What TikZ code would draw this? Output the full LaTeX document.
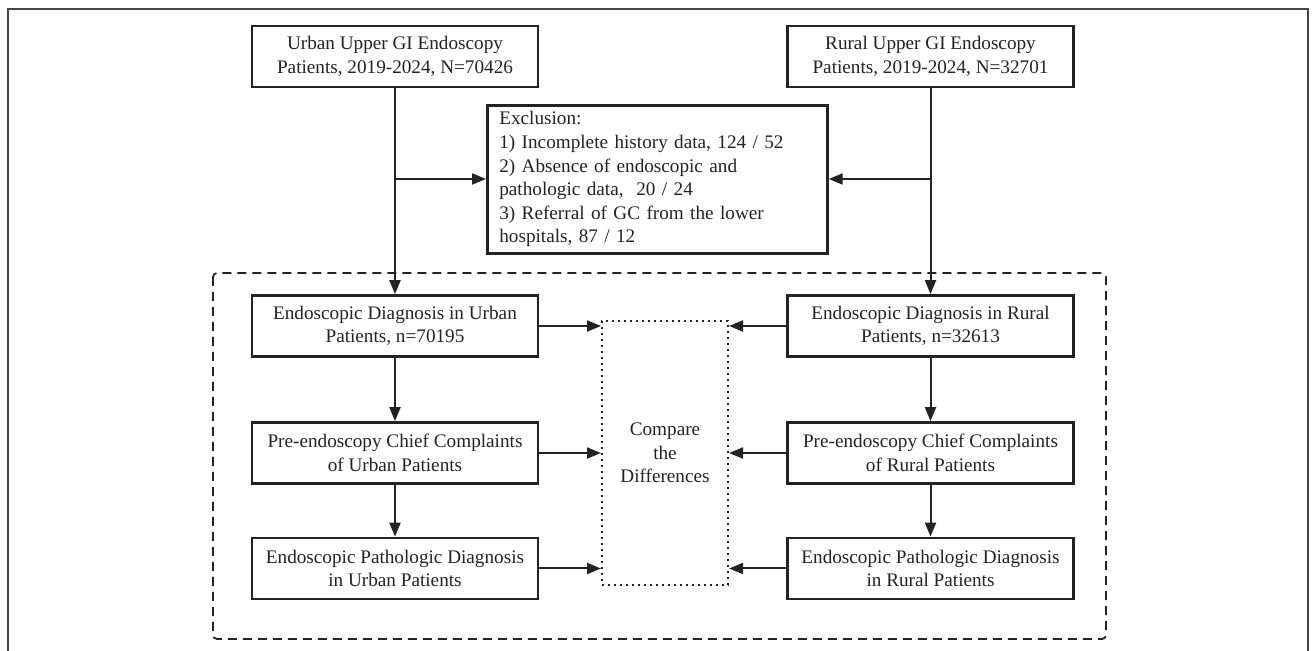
\documentclass[tikz,border=0pt]{standalone}
\usepackage{fontspec}
\setmainfont{Liberation Serif}
\usepackage{tikz}
\usetikzlibrary{positioning,arrows.meta,calc}
\definecolor{inkgray}{RGB}{35,35,35}
\definecolor{framegray}{RGB}{70,70,70}

\begin{document}
\begin{tikzpicture}[x=0.5pt,y=-0.5pt,
  font=\fontsize{9.6}{11.8}\selectfont,
  box/.style={draw=inkgray,line width=1.35pt,align=center,minimum width=143pt,minimum height=30.5pt,inner sep=1pt,text=inkgray},
  arr/.style={draw=inkgray,line width=1pt,-{Triangle[length=7pt,width=5.5pt]}},
  lin/.style={draw=inkgray,line width=1pt}]
\useasboundingbox (0,0) rectangle (1312,651);
% outer frame
\draw[framegray,line width=0.6pt] (8,651) |- (1308,9) -- (1308,651);
% cohort boxes
\node[box] (urban) at (395,56.5) {Urban Upper GI Endoscopy\\Patients, 2019-2024, N=70426};
\node[box] (rural) at (930.5,56.5) {Rural Upper GI Endoscopy\\Patients, 2019-2024, N=32701};
\node[draw=inkgray,line width=1.35pt,anchor=north west,text width=158pt,align=left,inner xsep=6pt,inner ysep=3pt,minimum height=74pt,text=inkgray] (excl) at (486,104)
  {Exclusion:\\1) Incomplete history data, 124 / 52\\2) Absence of endoscopic and\\pathologic data,\ \ 20 / 24\\3) Referral of GC from the lower\\hospitals, 87 / 12};
% comparison part
\draw[inkgray,line width=0.9pt,dashed,dash pattern=on 4.5pt off 3pt,rounded corners=2pt] (213,273) rectangle (1106,639);
\node[box] (ued) at (395,326) {Endoscopic Diagnosis in Urban\\Patients, n=70195};
\node[box] (ucc) at (395,453) {Pre-endoscopy Chief Complaints\\of Urban Patients};
\node[box] (upd) at (395,568.5) {Endoscopic Pathologic Diagnosis\\in Urban Patients};
\node[box] (red) at (930.5,326) {Endoscopic Diagnosis in Rural\\Patients, n=32613};
\node[box] (rcc) at (930.5,453) {Pre-endoscopy Chief Complaints\\of Rural Patients};
\node[box] (rpd) at (930.5,568.5) {Endoscopic Pathologic Diagnosis\\in Rural Patients};
\node[draw=inkgray,line width=1pt,dotted,minimum width=63pt,minimum height=132pt,align=center,text=inkgray] (cmp) at (665,453) {Compare\\the\\Differences};
% connectors
\coordinate (uj) at (395,179);
\coordinate (rj) at (930.5,179);
\draw[arr] (urban) -- (ued);
\draw[arr] (rural) -- (red);
\draw[arr] (uj) -- (excl.west |- uj);
\draw[arr] (rj) -- (excl.east |- rj);
\draw[arr] (ued) -- (ucc);
\draw[arr] (ucc) -- (upd);
\draw[arr] (red) -- (rcc);
\draw[arr] (rcc) -- (rpd);
\draw[arr] (ued.east) -- (cmp.west |- ued.east);
\draw[arr] (ucc.east) -- (cmp.west |- ucc.east);
\draw[arr] (upd.east) -- (cmp.west |- upd.east);
\draw[arr] (red.west) -- (cmp.east |- red.west);
\draw[arr] (rcc.west) -- (cmp.east |- rcc.west);
\draw[arr] (rpd.west) -- (cmp.east |- rpd.west);
\end{tikzpicture}
\end{document}
